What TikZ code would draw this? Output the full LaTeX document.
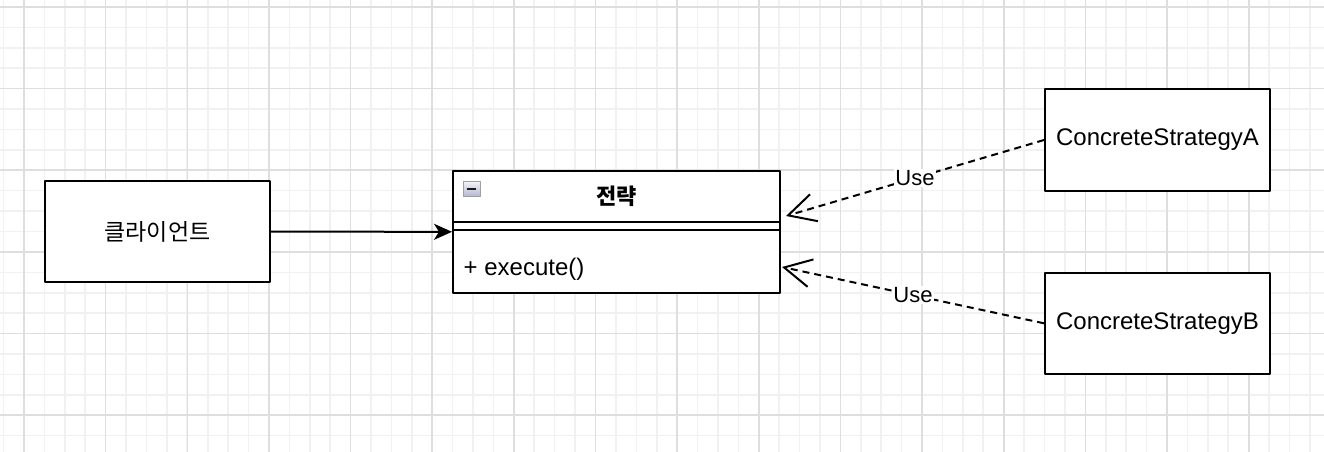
\documentclass[tikz,border=0pt]{standalone}
\usepackage{fontspec}
\setmainfont{Liberation Sans}
\newfontfamily\kofont{Noto Sans CJK KR}
\usetikzlibrary{arrows.meta}
\definecolor{gridminor}{RGB}{241,241,241}
\definecolor{gridmajor}{RGB}{222,222,222}

\begin{document}
\begin{tikzpicture}[x=1pt,y=-1pt,line join=round,
    box/.style={draw,line width=2pt,fill=white,minimum width=225pt,minimum height=101.5pt,
                inner sep=0pt,font=\fontsize{24}{28}\selectfont},
    kotext/.style={font=\kofont\fontsize{23}{27}\selectfont},
    classbox/.style={draw,line width=2pt,fill=white,minimum width=327pt,minimum height=122pt,inner sep=0pt},
    togglebox/.style={draw=gray!75,line width=0.8pt,top color=gray!8,bottom color=blue!25!gray!45,
                minimum width=17pt,minimum height=15pt,inner sep=0pt},
    assoc/.style={line width=2pt,-{Stealth[length=18pt,width=16pt,inset=5pt]}},
    uses/.style={line width=2pt,dash pattern=on 7pt off 5pt,-{Straight Barb[length=27pt,width=28pt]}},
    uselabel/.style={fill=white,inner sep=1pt,font=\fontsize{22}{26}\selectfont}]

    % 배경 격자
    \useasboundingbox (0,0) rectangle (1324,452);
    \clip (0,0) rectangle (1324,452);
    \foreach \i in {0,...,65} \draw[gridminor,line width=1.6pt] ({3.6+20.41*\i},0) -- ++(0,452);
    \foreach \j in {0,...,22} \draw[gridminor,line width=1.6pt] (0,{7+20.41*\j}) -- ++(1324,0);
    \foreach \i in {0,...,16} \draw[gridmajor,line width=1.6pt] ({24+81.65*\i},0) -- ++(0,452);
    \foreach \j in {0,...,5} \draw[gridmajor,line width=1.6pt] (0,{7+81.6*\j}) -- ++(1324,0);

    % 노드
    \node[box,kotext]  (client) at (157.5,231.5) {클라이언트};
    \node[classbox]    (strat)  at (616.5,232)   {};
    \node[box]         (concA)  at (1157.5,140)  {ConcreteStrategyA};
    \node[box]         (concB)  at (1157.5,323.3) {ConcreteStrategyB};

    % 전략 클래스 내부
    \draw[line width=2pt] ([yshift=-52pt]strat.north west) -- ([yshift=-52pt]strat.north east);
    \draw[line width=2pt] ([yshift=-60pt]strat.north west) -- ([yshift=-60pt]strat.north east);
    \node[kotext,font=\kofont\bfseries\fontsize{22}{26}\selectfont] (title) at ([yshift=-26pt]strat.north) {전략};
    \node[togglebox] (toggle) at (471.5,188.5) {};
    \draw[gray!20!black,line width=2pt] ([xshift=4pt]toggle.west) -- ([xshift=-4pt]toggle.east);
    \node[anchor=west,inner sep=0pt,font=\fontsize{24}{28}\selectfont] (method) at (463.5,269) {+ execute()};

    % 화살표
    \coordinate (tipA) at (786,216);
    \coordinate (tipB) at (782,267);
    \draw[assoc] (client) -- (strat);
    \draw[uses] (concA.west) -- node[uselabel] {Use} (tipA);
    \draw[uses] (concB.west) -- node[uselabel] {Use} (tipB);

\end{tikzpicture}
\end{document}
